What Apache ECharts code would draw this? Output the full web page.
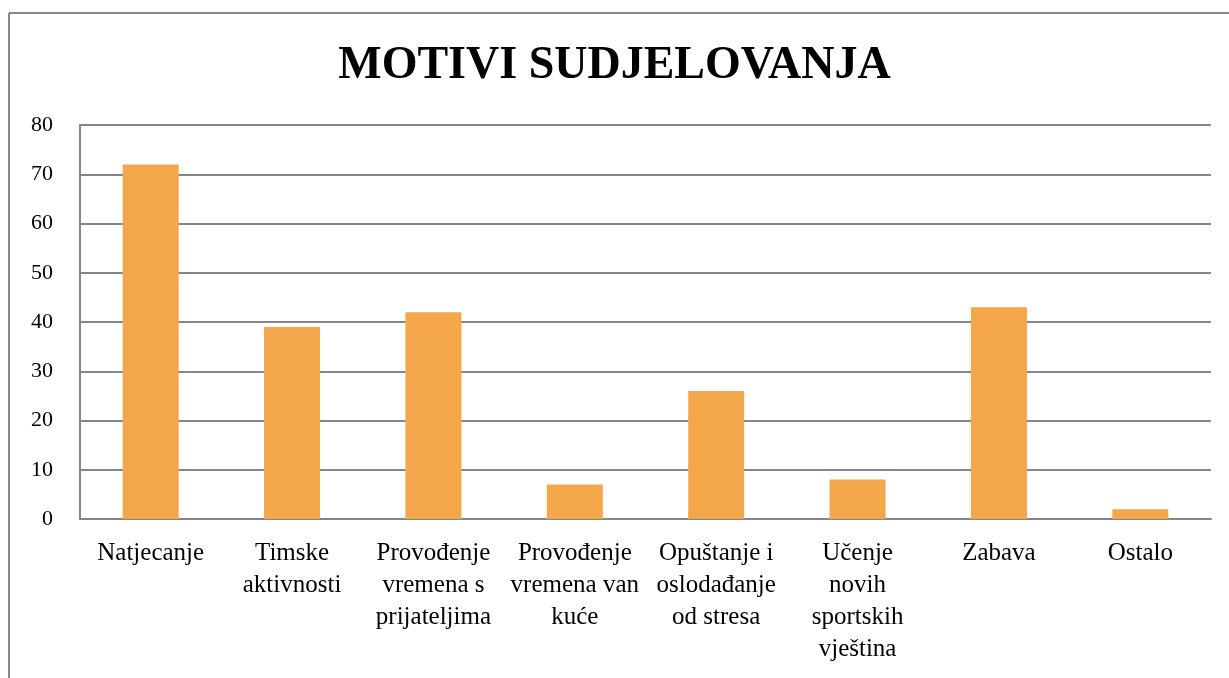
<!DOCTYPE html>
<html>
<head>
<meta charset="utf-8">
<script src="https://cdn.jsdelivr.net/npm/echarts@6/dist/echarts.min.js"></script>
<style>html,body{margin:0;padding:0;background:#fff;}#c{width:1229px;height:678px;}</style>
</head>
<body>
<div id="c"></div>
<script>
const titleText = "MOTIVI SUDJELOVANJA";
const categories = ["Natjecanje", "Timske aktivnosti", "Provođenje vremena s prijateljima", "Provođenje vremena van kuće", "Opuštanje i oslodađanje od stresa", "Učenje novih sportskih vještina", "Zabava", "Ostalo"];
const categoryLabels = ["Natjecanje", "Timske\naktivnosti", "Provođenje\nvremena s\nprijateljima", "Provođenje\nvremena van\nkuće", "Opuštanje i\noslodađanje\nod stresa", "Učenje\nnovih\nsportskih\nvještina", "Zabava", "Ostalo"];
const values = [72, 39, 42, 7, 26, 8, 43, 2];
const yTicks = [0, 10, 20, 30, 40, 50, 60, 70, 80];

const chart = echarts.init(document.getElementById('c'), null, {renderer: 'canvas'});
const font = '"Liberation Serif", "DejaVu Serif", serif';
chart.setOption({
  animation: false,
  backgroundColor: '#ffffff',
  title: {
    text: titleText,
    left: 'center',
    top: 38,
    textStyle: {fontFamily: font, fontWeight: 'bold', fontSize: 46, color: '#000'}
  },
  graphic: [
    {type: 'line', shape: {x1: 9, y1: 13, x2: 1229, y2: 13}, style: {stroke: '#8a8a8a', lineWidth: 2}},
    {type: 'line', shape: {x1: 9, y1: 13, x2: 9, y2: 678}, style: {stroke: '#8a8a8a', lineWidth: 2}}
  ],
  grid: {left: 80, right: 18, top: 125, bottom: 159, containLabel: false},
  xAxis: {
    type: 'category',
    data: categories,
    axisLine: {show: true, lineStyle: {color: '#868686', width: 2}},
    axisTick: {show: false},
    axisLabel: {
      interval: 0,
      margin: 18,
      fontFamily: font,
      fontSize: 25,
      lineHeight: 32,
      color: '#000',
      formatter: function (v, i) { return categoryLabels[categories.indexOf(v)]; }
    }
  },
  yAxis: {
    type: 'value',
    min: yTicks[0],
    max: yTicks[yTicks.length - 1],
    interval: 10,
    axisLine: {show: true, lineStyle: {color: '#868686', width: 2}},
    axisTick: {show: false},
    splitLine: {show: true, lineStyle: {color: '#868686', width: 2}},
    axisLabel: {margin: 27, fontFamily: font, fontSize: 22, color: '#000'}
  },
  series: [{
    type: 'bar',
    data: values,
    barWidth: 56,
    itemStyle: {color: '#F4A64A'}
  }]
});
</script>
</body>
</html>
